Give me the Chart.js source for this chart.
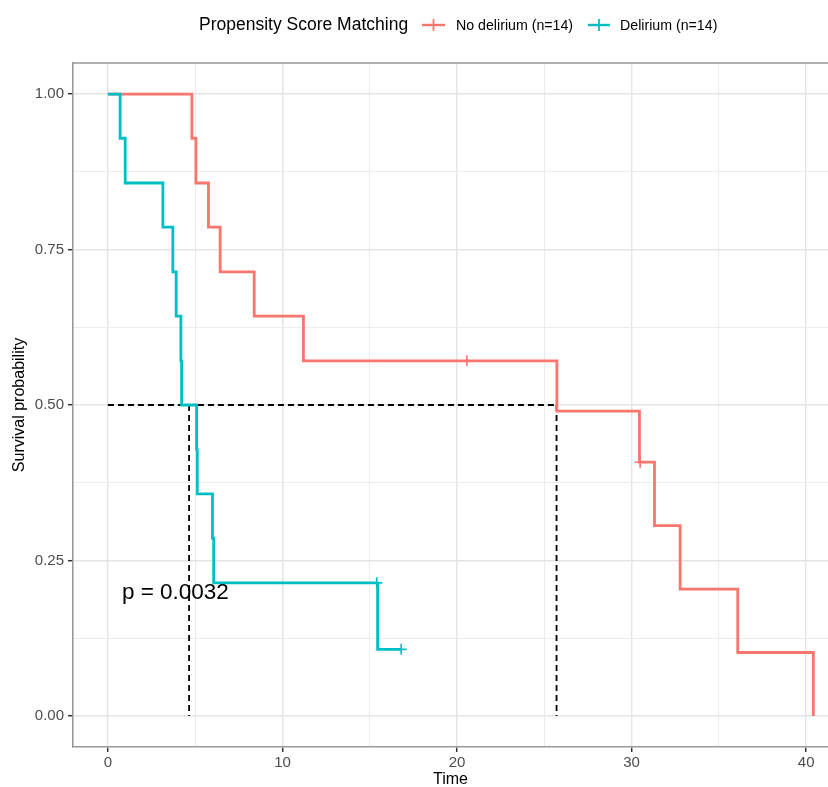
<!DOCTYPE html>
<html><head><meta charset="utf-8">
<script src="https://cdn.jsdelivr.net/npm/chart.js@4"></script>
<style>
html,body{margin:0;padding:0;background:#fff;}
#wrap{position:relative;width:828px;height:787px;overflow:hidden;}
#legend{position:absolute;left:0;top:0;width:828px;height:50px;font-family:"Liberation Sans",Arial,sans-serif;color:#000;}
.lg{position:absolute;top:25px;transform:translateY(-50%);white-space:nowrap;line-height:1;}
</style></head><body>
<div id="wrap"><canvas id="c" width="828" height="787"></canvas><div id="legend"></div></div>
<script>
// ---------- data ----------
const legendTitle = 'Propensity Score Matching';
const seriesNames = ['No delirium (n=14)', 'Delirium (n=14)'];
const seriesColors = ['#F8766D', '#00BFC4'];

const noDelTimes = [0, 4.81, 5.04, 5.76, 6.43, 8.38, 11.20, 25.72, 30.45, 31.31, 32.78, 36.08, 40.41];
const noDelSurv  = [1, 0.929, 0.857, 0.786, 0.714, 0.643, 0.571, 0.490, 0.408, 0.306, 0.204, 0.102, 0];
const noDelCensorTimes = [20.56, 30.49];
const noDelCensorSurv  = [0.571, 0.408];

const delTimes = [0, 0.70, 0.99, 3.15, 3.72, 3.91, 4.18, 4.22, 5.08, 5.12, 5.99, 6.06, 15.45, 16.80];
const delSurv  = [1, 0.929, 0.857, 0.786, 0.714, 0.643, 0.571, 0.5, 0.429, 0.357, 0.286, 0.214, 0.107, 0.107];
const delCensorTimes = [15.40, 16.80];
const delCensorSurv  = [0.214, 0.107];

const medianTimes = [4.65, 25.70];
const medianSurv = 0.5;

const xTicks = [0, 5, 10, 15, 20, 25, 30, 35, 40];
const xLabelTicks = [0, 10, 20, 30, 40];
const yTicks = [0, 0.125, 0.25, 0.375, 0.5, 0.625, 0.75, 0.875, 1];
const yLabelTicks = [0, 0.25, 0.5, 0.75, 1];

const pValueText = 'p = 0.0032';
const pValueAt = [0.8, 0.188];

const xTitle = 'Time';
const yTitle = 'Survival probability';

// ---------- helpers ----------
const FONT = '"Liberation Sans", Arial, Helvetica, sans-serif';
const pts = (xs, ys) => xs.map((x, i) => ({x: x, y: ys[i]}));

// ---------- legend (HTML) ----------
function keySvg(color, w) {
  return '<svg width="' + w + '" height="14" style="display:block">' +
    '<line x1="0" y1="7" x2="' + w + '" y2="7" stroke="' + color + '" stroke-width="2.4"/>' +
    '<line x1="' + (w / 2) + '" y1="1" x2="' + (w / 2) + '" y2="13" stroke="' + color + '" stroke-width="1.8"/></svg>';
}
const lg = document.getElementById('legend');
lg.innerHTML =
  '<div class="lg" style="left:199px;font-size:17.5px">' + legendTitle + '</div>' +
  '<div class="lg" style="left:422px">' + keySvg(seriesColors[0], 23) + '</div>' +
  '<div class="lg" style="left:456px;font-size:14.2px">' + seriesNames[0] + '</div>' +
  '<div class="lg" style="left:588px">' + keySvg(seriesColors[1], 22) + '</div>' +
  '<div class="lg" style="left:620px;font-size:14.2px">' + seriesNames[1] + '</div>';

// ---------- chart ----------
const medianMax = Math.max.apply(null, medianTimes);
const dashed = {
  borderColor: '#000', borderWidth: 1.8, borderDash: [6, 4],
  pointRadius: 0, pointHitRadius: 0, fill: false, tension: 0
};
const datasets = [
  {label: 'cens0', data: pts(noDelCensorTimes, noDelCensorSurv), showLine: false,
   pointStyle: 'cross', pointRadius: 5.5, borderColor: seriesColors[0], backgroundColor: seriesColors[0], pointBorderWidth: 1.6},
  {label: 'cens1', data: pts(delCensorTimes, delCensorSurv), showLine: false,
   pointStyle: 'cross', pointRadius: 5.5, borderColor: seriesColors[1], backgroundColor: seriesColors[1], pointBorderWidth: 1.6},
  {label: seriesNames[1], data: pts(delTimes, delSurv), stepped: 'before',
   borderColor: seriesColors[1], borderWidth: 2.8, pointRadius: 0, pointHitRadius: 0, fill: false},
  {label: seriesNames[0], data: pts(noDelTimes, noDelSurv), stepped: 'before',
   borderColor: seriesColors[0], borderWidth: 2.8, pointRadius: 0, pointHitRadius: 0, fill: false},
  Object.assign({label: 'medH', data: [{x: 0, y: medianSurv}, {x: medianMax, y: medianSurv}]}, dashed)
].concat(medianTimes.map((t, i) => Object.assign({label: 'medV' + i, data: [{x: t, y: medianSurv}, {x: t, y: 0}]}, dashed)));

const isMajorX = v => xLabelTicks.indexOf(v) >= 0;
const isMajorY = v => yLabelTicks.indexOf(v) >= 0;

const extras = {
  id: 'extras',
  afterDraw(chart) {
    const {ctx, chartArea: a, scales} = chart;
    ctx.save();
    // top panel border
    ctx.strokeStyle = '#999999';
    ctx.lineWidth = 1.6;
    ctx.beginPath();
    ctx.moveTo(a.left - 0.8, a.top);
    ctx.lineTo(a.right + 5, a.top);
    ctx.stroke();
    // p value text
    ctx.fillStyle = '#000';
    ctx.font = '22.5px ' + FONT;
    ctx.textBaseline = 'alphabetic';
    ctx.textAlign = 'left';
    ctx.fillText(pValueText, scales.x.getPixelForValue(pValueAt[0]), scales.y.getPixelForValue(pValueAt[1]));
    ctx.restore();
  }
};

new Chart(document.getElementById('c'), {
  type: 'line',
  data: {datasets: datasets},
  plugins: [extras],
  options: {
    responsive: false,
    animation: false,
    events: [],
    parsing: true,
    layout: {autoPadding: false, padding: {top: 63, left: 0, right: 0, bottom: 0}},
    plugins: {legend: {display: false}, tooltip: {enabled: false}},
    scales: {
      x: {
        type: 'linear', min: -2, max: 41.25,
        afterBuildTicks: s => { s.ticks = xTicks.map(v => ({value: v})); },
        afterFit: s => { s.height = 40; s.paddingLeft = 0; s.paddingRight = 0; },
        ticks: {
          autoSkip: false, maxRotation: 0, padding: 2, color: '#4d4d4d',
          font: {family: FONT, size: 15},
          callback: v => isMajorX(v) ? String(v) : ''
        },
        grid: {
          color: c => (c.tick && isMajorX(c.tick.value)) ? '#e4e4e4' : '#ececec',
          lineWidth: c => (c.tick && isMajorX(c.tick.value)) ? 1.4 : 1,
          tickColor: c => (c.tick && isMajorX(c.tick.value)) ? '#333333' : 'rgba(0,0,0,0)',
          tickLength: 5, tickWidth: 1.5, drawTicks: true
        },
        border: {display: true, color: '#999999', width: 1.6},
        title: {display: true, text: xTitle, color: '#000', font: {family: FONT, size: 16}, padding: {top: 0, bottom: -2}}
      },
      y: {
        type: 'linear', min: -0.05, max: 1.05,
        afterBuildTicks: s => { s.ticks = yTicks.map(v => ({value: v})); },
        afterFit: s => { s.width = 73; s.paddingTop = 0; s.paddingBottom = 0; },
        ticks: {
          autoSkip: false, padding: 4, color: '#4d4d4d',
          font: {family: FONT, size: 15},
          callback: v => isMajorY(v) ? v.toFixed(2) : ''
        },
        grid: {
          color: c => (c.tick && isMajorY(c.tick.value)) ? '#e4e4e4' : '#ececec',
          lineWidth: c => (c.tick && isMajorY(c.tick.value)) ? 1.4 : 1,
          tickColor: c => (c.tick && isMajorY(c.tick.value)) ? '#333333' : 'rgba(0,0,0,0)',
          tickLength: 5, tickWidth: 1.5, drawTicks: true
        },
        border: {display: true, color: '#999999', width: 1.6},
        title: {display: true, text: yTitle, color: '#000', font: {family: FONT, size: 16}, padding: {top: 10, bottom: 0}}
      }
    }
  }
});
</script>
</body></html>
